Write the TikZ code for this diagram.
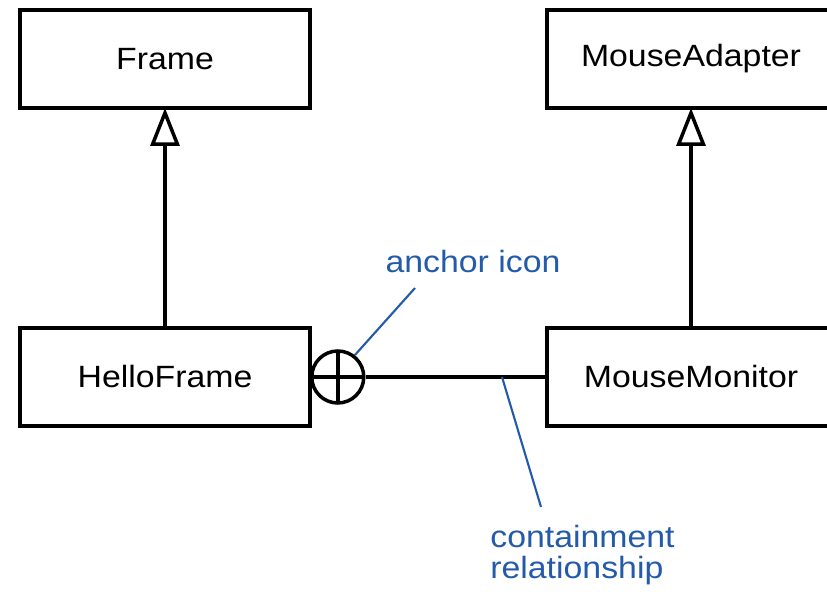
\documentclass[tikz,border=0pt]{standalone}
\usepackage{fontspec}
\setmainfont{Liberation Sans}[FakeStretch=1.1]
\usetikzlibrary{arrows.meta}
\definecolor{noteblue}{RGB}{35,90,170}

\begin{document}
\begin{tikzpicture}[scale=1,
    cls/.style={draw, line width=2pt, outer sep=0pt, minimum width=5.8cm, minimum height=1.96cm,
      font=\fontsize{17.5pt}{20pt}\selectfont},
    wide/.style={cls, minimum width=5.76cm},
    inherit/.style={line width=2pt, -{Triangle[open,length=0.76cm,width=0.58cm]}},
    anchoricon/.style={draw, circle, line width=2pt, minimum size=1.04cm, inner sep=0pt,
      path picture={
        \draw[line width=2pt] (path picture bounding box.north) -- (path picture bounding box.south);
        \draw[line width=2pt] (path picture bounding box.west) -- (path picture bounding box.east);
      }},
    note/.style={text=noteblue, font=\fontsize{17.5pt}{18pt}\selectfont, inner sep=0pt},
    noteline/.style={draw=noteblue, line width=1.2pt}]
  \clip (0,0) rectangle (16.54,11.84);

  \node[cls] (frame) at (3.3,10.66) {Frame};
  \node[cls] (hello) at (3.3,4.30) {HelloFrame};
  \draw[inherit] (hello) -- (frame);

  \node[wide] (adapter) at (13.82,10.66) {MouseAdapter};
  \node[wide] (monitor) at (13.82,4.30) {MouseMonitor};
  \draw[inherit] (monitor) -- (adapter);

  \node[anchoricon, anchor=west] (anchor) at (hello.east) {};
  \draw[line width=2pt] (anchor) -- (monitor);

  \node[note, anchor=base] (anchorlbl) at (9.46,6.38) {anchor icon};
  \coordinate (anchortip) at (8.30,6.08);
  \draw[noteline] (anchortip) -- (anchor.52);

  \node[note, anchor=base west, align=left] (containlbl) at (9.80,0.26)
    {containment\\relationship};
  \coordinate (containpt) at (10.04,4.30);
  \coordinate (containtip) at (10.82,1.70);
  \draw[noteline] (containpt) -- (containtip);
\end{tikzpicture}
\end{document}
